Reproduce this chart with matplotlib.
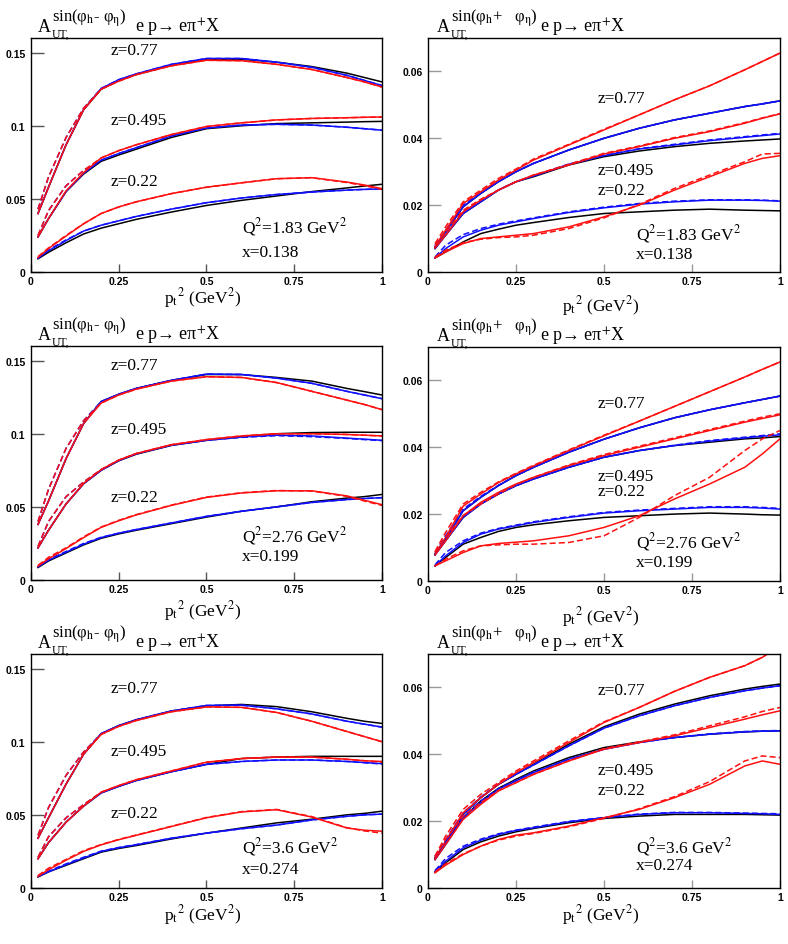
import matplotlib
matplotlib.use("Agg")
import matplotlib.pyplot as plt

plt.rcParams['font.family'] = ['Liberation Serif', 'DejaVu Serif']
plt.rcParams['mathtext.fontset'] = 'stix'

# pt^2 sample points (GeV^2)
xg = [0.02, 0.05, 0.1, 0.15, 0.2, 0.25, 0.3, 0.4, 0.5, 0.6, 0.7, 0.8, 0.9, 0.95, 1.0]

# each block: black, blue, blue dashed, red, red dashed
# ---- Q2=1.83, sin(phi_h - phi_eta)
A_z77 = [
    [.040, .058, .087, .111, .125, .131, .135, .1415, .1452, .1455, .1435, .1405, .136, .133, .130],
    [.040, .058, .087, .111, .1255, .1315, .1355, .142, .146, .146, .1435, .140, .1345, .131, .1275],
    [.043, .065, .092, .112, .1255, .1315, .1355, .142, .146, .146, .1435, .140, .1345, .131, .1275],
    [.040, .058, .087, .111, .125, .1305, .135, .141, .1448, .1445, .142, .1385, .133, .130, .1265],
    [.043, .065, .092, .112, .125, .1305, .135, .141, .1448, .1445, .142, .1385, .133, .130, .1265]]
A_z495 = [
    [.024, .0365, .055, .067, .0757, .080, .084, .092, .098, .100, .1015, .102, .1025, .1028, .103],
    [.024, .0365, .055, .0675, .0765, .081, .085, .093, .0985, .1005, .101, .1005, .099, .098, .097],
    [.025, .042, .059, .0695, .0765, .081, .085, .093, .0985, .1005, .101, .1005, .099, .098, .097],
    [.024, .0365, .0555, .068, .078, .083, .087, .094, .0995, .102, .104, .105, .1055, .1058, .106],
    [.025, .042, .059, .0695, .078, .083, .087, .094, .0995, .102, .104, .105, .1055, .1058, .106]]
A_z22 = [
    [.009, .0135, .020, .026, .030, .033, .036, .041, .0455, .049, .052, .055, .0575, .0588, .060],
    [.0095, .0145, .0215, .028, .032, .035, .038, .043, .0474, .0506, .053, .0547, .056, .0565, .0568],
    [.0095, .015, .022, .028, .032, .035, .038, .043, .0474, .0506, .053, .0547, .056, .0565, .0568],
    [.010, .016, .0246, .033, .040, .0445, .048, .0536, .058, .061, .0638, .0645, .0615, .0595, .057],
    [.0105, .0165, .025, .033, .040, .0445, .048, .0536, .058, .061, .0638, .0645, .0612, .059, .0565]]

# ---- Q2=1.83, sin(phi_h + phi_eta)
B_z77 = [
    [.0075, .012, .0195, .0235, .027, .030, .0325, .0365, .040, .043, .0455, .0475, .0495, .0503, .0512],
    [.0075, .012, .0195, .0235, .027, .030, .0325, .0365, .040, .043, .0455, .0475, .0495, .0503, .0512],
    [.008, .0125, .020, .0238, .027, .030, .0325, .0365, .040, .043, .0455, .0475, .0495, .0503, .0512],
    [.0075, .0125, .0205, .024, .0275, .0305, .0335, .038, .0425, .047, .0515, .0557, .0605, .063, .0655],
    [.0085, .0135, .021, .0245, .028, .0308, .0338, .0382, .0427, .047, .0515, .0557, .0605, .063, .0655]]
B_z495 = [
    [.007, .011, .0175, .021, .0245, .027, .0285, .032, .0345, .0362, .0375, .0385, .0392, .0395, .0398],
    [.007, .011, .0175, .021, .0245, .027, .0287, .0322, .0348, .0368, .038, .0393, .0403, .0408, .0413],
    [.0072, .0115, .018, .0213, .0245, .027, .0288, .0323, .0349, .0369, .0382, .0395, .0405, .041, .0415],
    [.0072, .011, .018, .0215, .0245, .027, .029, .032, .0353, .0375, .040, .042, .0445, .046, .0473],
    [.0078, .012, .0185, .0218, .0245, .027, .029, .0322, .0355, .0377, .0402, .0422, .0447, .0461, .0474]]
B_z22 = [
    [.0042, .006, .009, .0115, .0128, .014, .0148, .0163, .0175, .018, .0185, .0188, .0185, .0184, .0183],
    [.0042, .007, .0105, .0125, .014, .015, .016, .0178, .0192, .0203, .021, .0215, .0215, .0214, .0212],
    [.0045, .008, .0112, .013, .0143, .0153, .0162, .018, .0194, .0205, .0212, .0216, .0216, .0215, .0213],
    [.0042, .006, .0085, .010, .0105, .011, .0115, .0135, .0165, .020, .0245, .0285, .0325, .034, .0348],
    [.0045, .0065, .0088, .0098, .0103, .0105, .011, .013, .0162, .0202, .025, .029, .033, .0353, .0355]]

# ---- Q2=2.76, sin(phi_h - phi_eta)
C_z77 = [
    [.038, .054, .083, .107, .122, .127, .131, .1365, .1405, .1405, .1385, .136, .131, .1288, .1265],
    [.038, .054, .083, .107, .122, .127, .131, .1365, .1408, .1405, .138, .1345, .129, .1265, .124],
    [.040, .062, .090, .109, .122, .127, .131, .1365, .1408, .1405, .138, .1345, .129, .1265, .124],
    [.038, .054, .083, .107, .121, .1265, .1305, .136, .139, .1385, .135, .129, .123, .120, .1165],
    [.040, .062, .090, .109, .121, .1265, .1305, .136, .139, .1385, .135, .129, .123, .120, .1165]]
C_z495 = [
    [.022, .034, .052, .0658, .075, .0815, .086, .092, .0955, .098, .100, .1008, .101, .101, .101],
    [.022, .034, .052, .0658, .075, .0817, .0863, .0922, .0955, .0978, .099, .0985, .097, .0963, .0955],
    [.023, .040, .057, .067, .0755, .0817, .0863, .0922, .0955, .0975, .0987, .098, .0968, .096, .0953],
    [.022, .034, .052, .066, .0755, .082, .0865, .0925, .096, .0985, .100, .100, .0995, .099, .0985],
    [.023, .040, .057, .067, .0755, .082, .0865, .0925, .096, .0985, .100, .100, .0995, .099, .0985]]
C_z22 = [
    [.0085, .013, .0185, .024, .0285, .0315, .034, .0385, .043, .047, .050, .0535, .056, .057, .0585],
    [.009, .0135, .019, .0245, .029, .032, .0345, .039, .0435, .047, .050, .053, .055, .0557, .0563],
    [.009, .014, .0195, .025, .0292, .032, .0345, .039, .0435, .047, .050, .053, .055, .0557, .0563],
    [.0095, .0145, .0215, .029, .036, .0405, .0445, .051, .0565, .0595, .061, .061, .0575, .0545, .0515],
    [.010, .0155, .022, .0295, .0362, .0408, .0447, .0512, .0567, .0597, .0612, .0608, .0572, .054, .051]]

# ---- Q2=2.76, sin(phi_h + phi_eta)
D_z77 = [
    [.008, .0125, .021, .025, .0285, .0315, .034, .0385, .0424, .0458, .0488, .0512, .0533, .0543, .0553],
    [.008, .0125, .021, .025, .0285, .0315, .034, .0385, .0424, .0458, .0488, .0512, .0533, .0543, .0553],
    [.0085, .0135, .0215, .0253, .0286, .0315, .034, .0385, .0424, .0458, .0488, .0512, .0533, .0543, .0553],
    [.008, .013, .0224, .026, .0294, .032, .0344, .039, .0434, .0478, .0522, .0566, .061, .0633, .0655],
    [.0088, .0145, .023, .0265, .0296, .0322, .0346, .0392, .0436, .0478, .0522, .0566, .061, .0633, .0655]]
D_z495 = [
    [.0078, .012, .019, .023, .026, .0285, .0305, .034, .037, .039, .0405, .0415, .0425, .0428, .0432],
    [.0078, .012, .019, .023, .026, .0285, .0305, .034, .037, .039, .0405, .0418, .0428, .0433, .0437],
    [.008, .0125, .0195, .0232, .026, .0285, .0305, .034, .037, .039, .0406, .042, .043, .0435, .044],
    [.0078, .012, .0195, .0235, .0265, .029, .031, .0345, .0375, .040, .0425, .045, .0475, .0486, .0497],
    [.0085, .013, .0195, .023, .026, .0288, .031, .0347, .0378, .0403, .0428, .0453, .0478, .049, .050]]
D_z22 = [
    [.0045, .007, .011, .013, .0148, .016, .0168, .018, .019, .0195, .020, .0203, .020, .0198, .0197],
    [.0045, .0075, .0115, .014, .0155, .0165, .0175, .019, .0203, .021, .0215, .022, .022, .0218, .0215],
    [.0048, .0085, .012, .0143, .0157, .0167, .0177, .0192, .0205, .0212, .0217, .0222, .0222, .022, .0217],
    [.0045, .006, .0085, .0105, .0112, .0116, .012, .0135, .016, .0195, .0245, .029, .034, .038, .0425],
    [.0045, .0065, .009, .0105, .0108, .011, .011, .0115, .0135, .019, .0255, .031, .039, .0425, .045]]

# ---- Q2=3.6, sin(phi_h - phi_eta)
E_z77 = [
    [.034, .048, .071, .0915, .1055, .111, .115, .121, .1245, .1255, .124, .1205, .116, .114, .1125],
    [.034, .048, .071, .0915, .1055, .111, .115, .121, .1248, .125, .1225, .119, .114, .112, .110],
    [.036, .055, .077, .093, .1055, .111, .115, .121, .1248, .125, .1225, .119, .114, .112, .110],
    [.034, .048, .071, .0915, .105, .1105, .1145, .1205, .1238, .1235, .120, .114, .107, .1035, .100],
    [.036, .055, .077, .093, .105, .1105, .1145, .1205, .1238, .1235, .120, .114, .107, .1035, .100]]
E_z495 = [
    [.020, .031, .045, .056, .065, .0695, .0735, .0795, .0845, .0885, .0895, .090, .090, .090, .090],
    [.020, .031, .045, .056, .065, .0695, .0735, .0795, .0845, .0865, .0875, .0875, .0865, .0858, .085],
    [.021, .035, .048, .057, .0652, .0695, .0735, .0795, .0845, .0865, .0875, .0875, .0865, .0856, .0848],
    [.020, .031, .045, .056, .0655, .070, .074, .080, .086, .0885, .0895, .0895, .088, .087, .0865],
    [.021, .035, .048, .057, .0655, .070, .074, .080, .086, .0885, .0895, .0895, .088, .087, .086]]
E_z22 = [
    [.0075, .011, .0155, .020, .0245, .027, .029, .0335, .0375, .041, .0445, .047, .050, .051, .0525],
    [.0078, .011, .016, .0205, .025, .0275, .0295, .034, .0375, .0405, .043, .0465, .049, .050, .0505],
    [.008, .0115, .0165, .021, .0252, .0277, .0297, .034, .0375, .0405, .043, .0465, .049, .050, .0505],
    [.008, .0125, .019, .025, .0295, .033, .036, .042, .048, .052, .0535, .0485, .041, .0395, .0388],
    [.0085, .0135, .0195, .0255, .0297, .0332, .0362, .0422, .0482, .0522, .0537, .0488, .0412, .039, .0375]]

# ---- Q2=3.6, sin(phi_h + phi_eta)
F_z77 = [
    [.009, .0135, .022, .027, .031, .034, .037, .043, .0482, .052, .055, .0575, .0595, .0603, .061],
    [.009, .0135, .022, .027, .031, .034, .0368, .0425, .0478, .0515, .0545, .057, .059, .0598, .0605],
    [.0095, .0145, .0225, .0272, .031, .034, .0368, .0425, .0478, .0515, .0545, .057, .059, .0598, .0605],
    [.009, .014, .0225, .027, .031, .0345, .0375, .0435, .0495, .054, .0588, .063, .0665, .069, .0725],
    [.0095, .0155, .0235, .028, .0315, .035, .038, .044, .0497, .054, .0588, .063, .0665, .069, .0725]]
F_z495 = [
    [.0085, .013, .021, .026, .0298, .0325, .035, .039, .042, .0437, .045, .046, .0467, .0469, .047],
    [.0085, .013, .021, .0255, .0295, .032, .0345, .0385, .0415, .0435, .045, .046, .0467, .0469, .047],
    [.009, .014, .0215, .026, .0297, .0322, .0347, .0385, .0415, .0435, .045, .0461, .0468, .047, .0471],
    [.0085, .013, .0205, .025, .029, .0315, .034, .038, .0415, .0435, .0455, .048, .0505, .0518, .053],
    [.0092, .0145, .0215, .0255, .0292, .0315, .034, .038, .0417, .0437, .0458, .0485, .0512, .0528, .054]]
F_z22 = [
    [.0048, .0075, .0115, .0138, .0155, .0168, .0178, .0195, .0208, .0215, .022, .022, .022, .0219, .0218],
    [.005, .008, .012, .0143, .016, .0172, .018, .0198, .021, .022, .0225, .0225, .0223, .0222, .022],
    [.0052, .0088, .0125, .0146, .0162, .0173, .0182, .0199, .0211, .0221, .0226, .0226, .0224, .0223, .0222],
    [.0045, .0068, .010, .0125, .0145, .0158, .0165, .0185, .021, .0235, .027, .031, .0365, .038, .037],
    [.0048, .0072, .0102, .0125, .0143, .0155, .0163, .0183, .0208, .0237, .0273, .0318, .038, .0395, .039]]

z_labels = ["z=0.77", "z=0.495", "z=0.22"]
q2_labels = ["Q$^2$=1.83 GeV$^2$", "Q$^2$=2.76 GeV$^2$", "Q$^2$=3.6 GeV$^2$"]
x_labels = ["x=0.138", "x=0.199", "x=0.274"]

sup_minus = "sin(φ$_{\\mathrm{h}}$- φ$_{\\mathrm{η}}$)"
sup_plus = "sin(φ$_{\\mathrm{h}}$+   φ$_{\\mathrm{η}}$)"
reaction = "e p→ eπ$^{+}$X"

panels = [
    # blocks, minus?, row, z label positions, Q2 pos, x pos, xlabel offset
    ([A_z77, A_z495, A_z22], True, 0, [(0.228, .152), (0.228, .104), (0.228, .062)], (0.60, .0318), (0.60, .0135), -0.105),
    ([B_z77, B_z495, B_z22], False, 0, [(0.483, .052), (0.483, .0305), (0.483, .0245)], (0.59, .0116), (0.59, .0053), -0.14),
    ([C_z77, C_z495, C_z22], True, 1, [(0.228, .147), (0.228, .1034), (0.228, .057)], (0.60, .0307), (0.60, .0165), -0.13),
    ([D_z77, D_z495, D_z22], False, 1, [(0.483, .0533), (0.483, .0314), (0.483, .0269)], (0.59, .0119), (0.59, .0058), -0.15),
    ([E_z77, E_z495, E_z22], True, 2, [(0.228, .1367), (0.228, .0938), (0.228, .051)], (0.60, .0284), (0.60, .0131), -0.11),
    ([F_z77, F_z495, F_z22], False, 2, [(0.483, .0593), (0.483, .0353), (0.483, .0293)], (0.59, .0127), (0.59, .0070), -0.11),
]

fig = plt.figure(figsize=(7.88, 9.45), dpi=100)
bottoms = [0.7111, 0.3852, 0.0593]
h = 0.2476
hpx = h * 945

for i, (blocks, minus, row, zpos, qpos, xpos, xlab_off) in enumerate(panels):
    if minus:
        ax = fig.add_axes([0.0393, bottoms[row], 0.4454, h])
    else:
        ax = fig.add_axes([0.5431, bottoms[row] - (0.001 if row == 1 else 0), 0.4467, h])
    for b in blocks:
        ax.plot(xg, b[0], color='black', lw=1.1)
        ax.plot(xg, b[1], color='#1010ff', lw=1.1)
        ax.plot(xg, b[2], color='#1010ff', lw=1.1, ls=(0, (4, 2)))
        ax.plot(xg, b[3], color='#ff1010', lw=1.1)
        ax.plot(xg, b[4], color='#ff1010', lw=1.1, ls=(0, (4, 2)))
    ax.set_xlim(0, 1)
    if minus:
        ax.set_ylim(0, 0.16)
        ax.set_yticks([0, 0.05, 0.1, 0.15])
        ax.set_yticklabels(["0", "0.05", "0.1", "0.15"])
        tc = '#555555'
    else:
        ax.set_ylim(0, 0.07)
        ax.set_yticks([0, 0.02, 0.04, 0.06])
        ax.set_yticklabels(["0", "0.02", "0.04", "0.06"])
        tc = '#999999'
    ax.set_xticks([0, 0.25, 0.5, 0.75, 1])
    ax.set_xticklabels(["0", "0.25", "0.5", "0.75", "1"])
    ax.tick_params(axis='y', direction='in', length=9, width=1, color=tc, pad=4)
    ax.tick_params(axis='x', direction='in', length=6, width=1, color=tc, pad=3)
    for lab in ax.get_xticklabels() + ax.get_yticklabels():
        lab.set_fontfamily('Liberation Sans')
        lab.set_fontweight('bold')
        lab.set_fontsize(7.5)
    for s in ax.spines.values():
        s.set_linewidth(1.0)

    # title: A_UT^{sin(...)}, e p -> e pi+ X
    y0 = 1 + 7 / hpx
    tA = ax.text(0.02 if minus else 0.026, y0, "A", transform=ax.transAxes,
                 fontsize=13, ha='left', va='baseline')
    ax.annotate("UT,", xy=(1, 1 + 1.5 / hpx), xycoords=(tA, ax.transAxes),
                xytext=(0.5, 0), textcoords='offset points',
                fontsize=8.5, ha='left', va='baseline')
    tS = ax.annotate(sup_minus if minus else sup_plus, xy=(1, y0 + 10.5 / hpx),
                     xycoords=(tA, ax.transAxes), xytext=(0.5, 0), textcoords='offset points',
                     fontsize=12, ha='left', va='baseline')
    ax.annotate(reaction, xy=(1, y0), xycoords=(tS, ax.transAxes),
                xytext=(6.5 if minus else 2, 0), textcoords='offset points',
                fontsize=13, ha='left', va='baseline')

    for (tx, ty), zl in zip(zpos, z_labels):
        ax.text(tx, ty, zl, fontsize=12.5, ha='left', va='center')
    ax.text(qpos[0], qpos[1], q2_labels[row], fontsize=12.5, ha='left', va='center')
    ax.text(xpos[0], xpos[1], x_labels[row], fontsize=12.5, ha='left', va='center')
    ax.text(0.49, xlab_off, r"p$_\mathrm{t}$$^2$ (GeV$^2$)", transform=ax.transAxes,
            fontsize=12.5, ha='center', va='center')

fig.savefig("out.png", dpi=100)
